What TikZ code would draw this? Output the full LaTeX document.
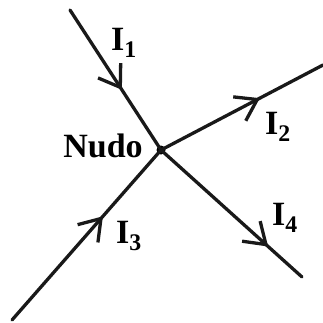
\documentclass[tikz,border=0pt]{standalone}
\usepackage{fontspec}
\setmainfont{Liberation Serif}
\usetikzlibrary{arrows.meta,decorations.markings}
\tikzset{
  wire/.style={line width=3.3pt, draw=black!90, line cap=round},
  lbl/.style={font=\fontsize{34}{36}\selectfont\bfseries, inner sep=0pt},
  midarrow/.style={postaction={decorate, decoration={markings,
      mark=at position #1 with {\arrow{Straight Barb[length=20pt,width=27pt,line width=3.3pt]}}}}}
}
\begin{document}
\begin{tikzpicture}[x=1pt,y=-1pt]
\useasboundingbox (0,0) rectangle (323,322);
\node[circle, fill=black, inner sep=0pt, minimum size=9pt] (n) at (161,150) {};
\coordinate (a) at (70,10);
\coordinate (b) at (323,65);
\coordinate (c) at (12,320);
\coordinate (d) at (302,277);
\draw[wire, midarrow=0.57] (a) -- (n.center);
\draw[wire, midarrow=0.61] (n.center) -- (b);
\draw[wire, midarrow=0.61] (c) -- (n.center);
\draw[wire, midarrow=0.76] (n.center) -- (d);
\node[lbl] (nudo) at (103,146) {Nudo};
\node[lbl] (i1) at (124,43) {I\textsubscript{1}};
\node[lbl] (i2) at (278,127) {I\textsubscript{2}};
\node[lbl] (i3) at (129,236) {I\textsubscript{3}};
\node[lbl] (i4) at (285,218) {I\textsubscript{4}};
\end{tikzpicture}
\end{document}
